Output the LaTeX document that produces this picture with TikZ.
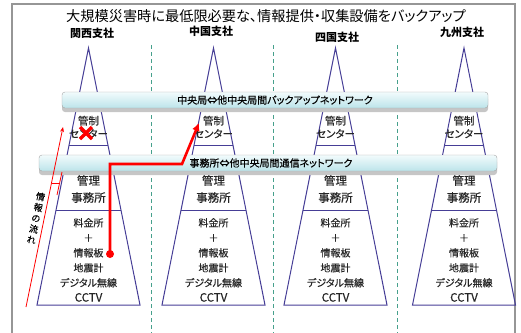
\documentclass[tikz,border=0pt]{standalone}
\usepackage{fontspec}
\setmainfont{Noto Sans CJK JP}[RawFeature=+palt]
\newfontfamily\jpmid{Noto Sans CJK JP}[RawFeature=+palt, FakeBold=0.4]
\usetikzlibrary{arrows.meta,shadows}

\definecolor{pyrblue}{RGB}{70,62,150}
\definecolor{divgreen}{RGB}{70,160,140}
\definecolor{bandtop}{RGB}{242,251,252}
\definecolor{bandbot}{RGB}{188,228,234}
\definecolor{framegray}{RGB}{150,150,150}

\tikzset{
  pyr/.style={pyrblue, line width=1pt},
  divider/.style={divgreen, line width=0.9pt, dash pattern=on 4pt off 3pt},
  band/.style={draw=gray!70, rounded corners=3pt, top color=bandtop, bottom color=bandbot,
    minimum height=16pt, inner sep=0pt, font=\jpmid\fontsize{10}{11}\selectfont,
    drop shadow={shadow xshift=0pt, shadow yshift=-4pt, fill=gray!45, opacity=1}},
  branch/.style={font=\fontsize{11}{12}\selectfont\bfseries},
  box/.style={align=center, inner sep=0pt, text=black!85},
  flow/.style={red, line width=2.6pt, -{Latex[length=8pt,width=8pt]}},
  thinflow/.style={red, line width=0.8pt},
}

\begin{document}
\begin{tikzpicture}[x=1pt, y=-1pt]
  \useasboundingbox (0,0) rectangle (521,332);

  % Frame
  \draw[framegray, line width=1.2pt] (12,334) -- (12,4) -- (515,4) -- (515,334);

  % Title
  \node (title) at (266,16) {\fontsize{14.2}{15}\selectfont 大規模災害時に最低限必要な、情報提供・収集設備をバックアップ};

  % Dividers
  \foreach \x in {151,273,397}
    \draw[divider] (\x,45) -- (\x,334);

  % Branches
  \foreach \cx/\lx/\ly/\name/\tag in {88.5/92/33/関西支社/kansai, 213.5/211/31/中国支社/chugoku,
      335.5/337/37/四国支社/shikoku, 464/462/32/九州支社/kyushu} {
    \draw[pyr] ({\cx-51.5},305) -- (\cx,48) -- ({\cx+51.5},305) -- cycle;
    \draw[pyr] ({\cx-19.4},145) -- ({\cx+19.4},145);
    \draw[pyr] ({\cx-32.5},210) -- ({\cx+32.5},210);
    \node[branch] (\tag) at (\lx,\ly) {\name};
    \node[box, font=\jpmid\fontsize{10.5}{13}\selectfont] (\tag-ctl) at (\cx,127) {管制\\センター};
    \node[box, font=\jpmid\fontsize{11.5}{17}\selectfont] (\tag-office) at (\cx,189) {管理\\事務所};
    \node[box, font=\jpmid\fontsize{10}{15}\selectfont] (\tag-toll) at (\cx,260)
      {料金所\\＋\\情報板\\地震計\\デジタル無線\\{\fontsize{11.5}{15}\selectfont CCTV}};
  }

  % Networks
  \node[band, minimum width=426pt] (backup) at (275,100) {中央局⇔他中央局間バックアップネットワーク};
  \node[band, minimum width=458pt] (comm) at (268,163) {\hspace{6pt}事務所⇔他中央局間通信ネットワーク};

  % Failed control centre
  \draw[red, line width=3.2pt] (80,127) -- (92,139) (92,127) -- (80,139);

  % Backup route
  \node[circle, fill=red, inner sep=0pt, minimum size=8pt] (src) at (110,254) {};
  \coordinate (bend) at (182,164);
  \coordinate (dest) at (199,123);
  \draw[flow] (src.center) |- (bend) -- (dest);

  % Information flow
  \coordinate (flowfoot) at (26,307);
  \coordinate (flowhead) at (63,127);
  \draw[thinflow, -{Stealth[length=5pt,width=4pt]}] (flowfoot) -- (flowhead);
  \draw[thinflow] (57,195) -- (62,172);
  \draw[thinflow] (51.5,183) -- (60,183);
  \node[rotate=-12, align=center, inner sep=0pt, font=\jpmid\fontsize{9}{11}\selectfont] (flowlabel) at (36,218)
    {情\\報\\の\\流\\れ};
\end{tikzpicture}
\end{document}
